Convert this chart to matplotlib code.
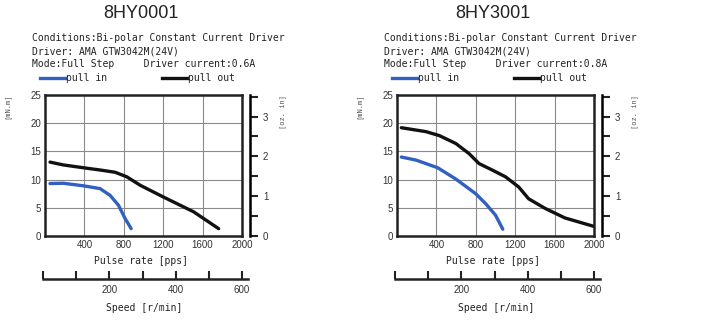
import matplotlib.pyplot as plt
import numpy as np

W, H = 709, 324

# Data (pps, mN.m)
titles = ['8HY0001', '8HY3001']
currents = ['0.6A', '0.8A']

out1_pps = [51, 186, 390, 559, 712, 830, 966, 1203, 1508, 1763]
out1_tq = [13.1, 12.6, 12.1, 11.7, 11.3, 10.5, 9.0, 6.9, 4.3, 1.3]
in1_pps = [51, 186, 390, 559, 661, 746, 813, 875]
in1_tq = [9.3, 9.35, 8.9, 8.4, 7.2, 5.45, 3.1, 1.3]

out2_pps = [44, 295, 430, 597, 732, 832, 966, 1101, 1235, 1336, 1503, 1705, 2000]
out2_tq = [19.2, 18.5, 17.8, 16.4, 14.6, 12.85, 11.7, 10.5, 8.7, 6.6, 4.9, 3.2, 1.7]
in2_pps = [44, 195, 413, 597, 799, 899, 1000, 1074]
in2_tq = [14.0, 13.45, 12.1, 10.1, 7.5, 5.75, 3.7, 1.2]

pulse_ticks = [400, 800, 1200, 1600, 2000]
torque_ticks = [0, 5, 10, 15, 20, 25]
oz_ticks = [0, 1, 2, 3]
speed_ticks = [200, 400, 600]

BLUE = '#3160c0'
mono = 'DejaVu Sans Mono'
sans = 'Liberation Sans'

fig = plt.figure(figsize=(W / 100, H / 100), dpi=100)


def px(x0, y0, x1, y1):
    # pixel box -> figure fraction rect
    return [x0 / W, 1 - y1 / H, (x1 - x0) / W, (y1 - y0) / H]


def panel(x0, title, current, out_x, out_y, in_x, in_y):
    ax = fig.add_axes(px(x0, 95, x0 + 197, 236))
    ax.plot(out_x, out_y, color='#111111', lw=2.4, solid_capstyle='round')
    ax.plot(in_x, in_y, color=BLUE, lw=2.4, solid_capstyle='round')
    ax.set_xlim(0, 2000)
    ax.set_ylim(0, 25)
    ax.set_xticks(pulse_ticks)
    ax.set_yticks(torque_ticks)
    ax.tick_params(length=0, labelsize=7, labelcolor='#333333', pad=3)
    for lab in ax.get_xticklabels() + ax.get_yticklabels():
        lab.set_family(sans)
    ax.grid(True, color='#8a8a8a', lw=0.8)
    for s in ax.spines.values():
        s.set_linewidth(1.8)
        s.set_color('#222222')

    ax2 = ax.twinx()
    ax2.set_ylim(0, 25 / 7.06)
    ax2.set_yticks(oz_ticks)
    ax2.set_yticks(np.arange(0.5, 3.6, 1.0), minor=True)
    ax2.spines['right'].set_position(('outward', 6))
    ax2.spines['right'].set_linewidth(1.8)
    for s in ['top', 'left', 'bottom']:
        ax2.spines[s].set_visible(False)
    ax2.tick_params(which='both', length=6, width=1.5, color='#222222')
    ax2.tick_params(labelsize=7, labelcolor='#333333', pad=3)
    for lab in ax2.get_yticklabels():
        lab.set_family(sans)

    # speed axis
    sp = fig.add_axes(px(x0 - 2, 250, x0 + 203, 279))
    sp.set_xlim(0, 600 * 205 / 199)
    sp.set_xticks([0, 100, 200, 300, 400, 500, 600])
    sp.set_xticklabels(['', '', '200', '', '400', '', '600'], family=sans)
    sp.set_yticks([])
    for s in ['top', 'left', 'right']:
        sp.spines[s].set_visible(False)
    sp.spines['bottom'].set_linewidth(1.8)
    sp.spines['bottom'].set_color('#222222')
    sp.patch.set_alpha(0)
    sp.tick_params(direction='in', length=6, width=1.5, color='#222222',
                   labelsize=7, labelcolor='#333333', pad=4)

    cx = x0 + 96
    fig.text(cx / W, 1 - 14 / H, title, ha='center', va='center',
             fontsize=13, family=sans, color='#222222')
    lx = x0 - 13
    lines = ['Conditions:Bi-polar Constant Current Driver',
             'Driver: AMA GTW3042M(24V)',
             'Mode:Full Step     Driver current:' + current]
    for i, t in enumerate(lines):
        fig.text(lx / W, 1 - (38 + 13 * i) / H, t, ha='left', va='center',
                 fontsize=7, family=mono, color='#222222')
    # legend
    ly = 1 - 78 / H
    fig.add_artist(plt.Line2D([(x0 - 5) / W, (x0 + 20) / W], [ly, ly],
                              color=BLUE, lw=2.4))
    fig.text((x0 + 21) / W, ly, 'pull in', ha='left', va='center',
             fontsize=7, family=mono, color='#222222')
    fig.add_artist(plt.Line2D([(x0 + 117) / W, (x0 + 142) / W], [ly, ly],
                              color='#111111', lw=2.4))
    fig.text((x0 + 143) / W, ly, 'pull out', ha='left', va='center',
             fontsize=7, family=mono, color='#222222')

    fig.text((x0 + 96) / W, 1 - 261 / H, 'Pulse rate [pps]', ha='center',
             va='center', fontsize=7, family=mono, color='#222222')
    fig.text((x0 + 99) / W, 1 - 308 / H, 'Speed [r/min]', ha='center',
             va='center', fontsize=7, family=mono, color='#222222')
    fig.text((x0 - 38) / W, 1 - 106 / H, '[mN.m]', rotation=90, ha='center',
             va='center', fontsize=5, family=mono, color='#555555')
    fig.text((x0 + 238) / W, 1 - 112 / H, '[oz. in]', rotation=90,
             ha='center', va='center', fontsize=5, family=mono,
             color='#555555')


panel(45, titles[0], currents[0], out1_pps, out1_tq, in1_pps, in1_tq)
panel(397, titles[1], currents[1], out2_pps, out2_tq, in2_pps, in2_tq)

fig.savefig('out.png', dpi=100)
